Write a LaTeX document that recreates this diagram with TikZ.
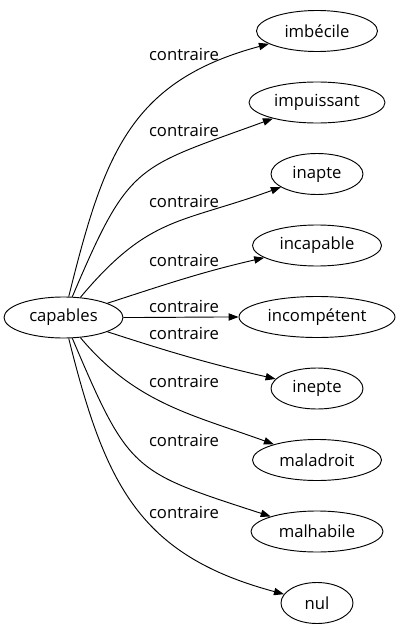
\documentclass[tikz,border=0pt]{standalone}
\usepackage{fontspec}
\setmainfont{Open Sans}
\usetikzlibrary{arrows.meta,shapes.geometric}
\tikzset{
  mot/.style={draw, ellipse, inner xsep=2pt, inner ysep=0pt, minimum height=30.75pt, line width=0.7pt},
  lien/.style={-{Triangle[length=7.5pt,width=5.5pt]}, line width=0.7pt},
  etiq/.style={inner sep=0pt}
}
\begin{document}
\begin{tikzpicture}[x=0.75pt, y=0.75pt, font=\fontsize{12.5}{15}\selectfont]
  \useasboundingbox (0,0) rectangle (402,-635);
  \node[mot, minimum width=119*0.75pt] (cap) at (63.5,-317.5) {capables};
  % mot / texte / y / largeur / out / in / looseness / y de l'etiquette
  \foreach \n/\t/\y/\w/\o/\i/\lo/\l in {imb/imbécile/31/121/76/195/1.15/54,
      imp/impuissant/102.5/136/67/200/1.4/130,
      inap/inapte/174/92/50/200/1.2/201, inca/incapable/245.5/129/18/193/1/260,
      inco/incompétent/317/156/0/180/1/306.5, inep/inepte/388.5/92/-18/167/1/333.5,
      mala/maladroit/460/129/-50/160/1/381, malh/malhabile/531.5/132/-67/162/1.4/440,
      nul/nul/603/72/-76/165/1.15/512}{
    \node[mot, minimum width=\w*0.75pt] (\n) at (317,-\y) {\t};
    \draw[lien] (cap) to[out=\o, in=\i, looseness=\lo] (\n);
    \node[etiq] (l\n) at (184,-\l) {contraire};
  }
\end{tikzpicture}
\end{document}
